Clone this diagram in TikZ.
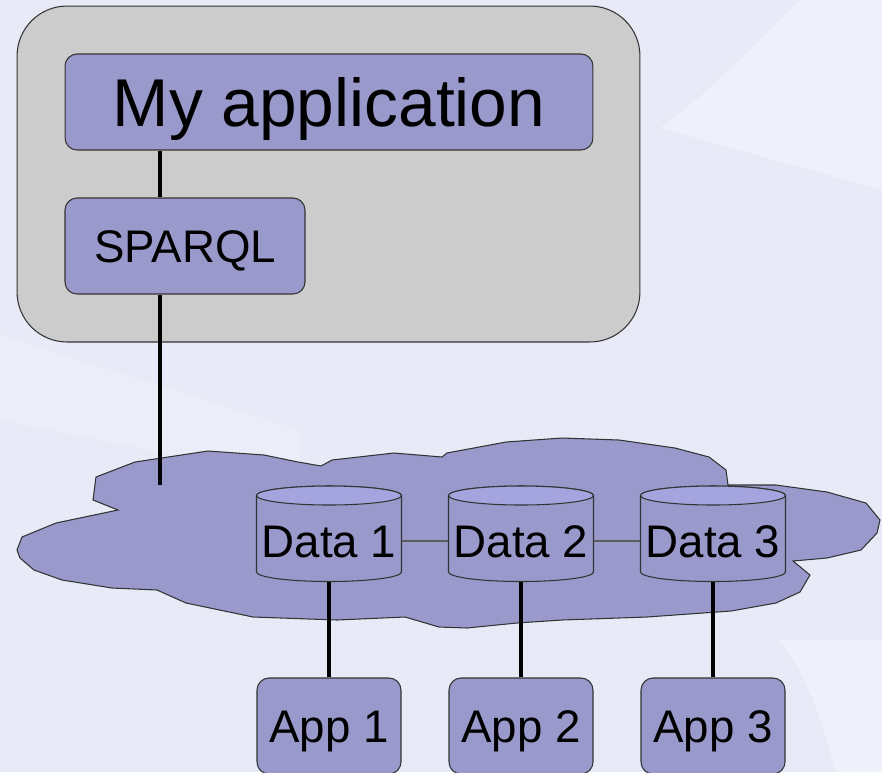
\documentclass[tikz,border=0pt]{standalone}
\usepackage{fontspec}
\setmainfont{Liberation Sans}
\usetikzlibrary{calc}

\definecolor{bgbase}{HTML}{E8EBF7}
\definecolor{bglight}{HTML}{EFF1FA}
\definecolor{bgmid}{HTML}{EBEDF8}
\definecolor{boxfill}{HTML}{9999CC}
\definecolor{captop}{HTML}{A4A4DE}
\definecolor{hostfill}{HTML}{CCCCCC}
\definecolor{edge}{HTML}{333333}

\tikzset{
  box/.style={draw=edge, line width=0.6pt, fill=boxfill, rounded corners=0.24cm,
    inner sep=0pt, text height=18.6pt, text depth=0pt, font=\fontsize{26}{26}\selectfont},
  dbnode/.style={inner sep=0pt, minimum width=2.9cm, minimum height=1.62cm,
    text height=18.6pt, text depth=0pt, font=\fontsize{26}{26}\selectfont},
  cylbody/.style={draw=edge, line width=0.6pt, fill=boxfill},
  cyltop/.style={draw=edge, line width=0.6pt, fill=captop},
  heavy/.style={line width=2.3pt, black},
  peer/.style={line width=0.8pt, draw=edge!80},
}

% database cylinder drawn around a named text node
\newcommand\dbdrum[1]{%
  \path[cylbody] ($(#1)+(-72.5,45.5)$) -- ($(#1)+(-72.5,-31)$)
    arc[start angle=180, end angle=360, x radius=1.45cm, y radius=0.19cm]
    -- ($(#1)+(72.5,45.5)$)
    arc[start angle=0, end angle=180, x radius=1.45cm, y radius=0.19cm] -- cycle;
  \path[cyltop] ($(#1)+(0,45.5)$) ellipse[x radius=1.45cm, y radius=0.19cm];
}

\begin{document}
\begin{tikzpicture}[x=0.02cm, y=0.02cm]
% background
\fill[bgbase] (0,0) rectangle (882,-772);
\useasboundingbox (0,0) rectangle (882,-772);
\fill[bgmid] (0,-335) -- (300,-430) -- (300,-480) -- (0,-420) -- cycle;
\fill[bglight] (800,0) .. controls (740,-60) and (700,-100) .. (660,-128)
  -- (882,-190) -- (882,0) -- cycle;
\fill[bglight] (780,-640) .. controls (810,-680) and (825,-730) .. (835,-772)
  -- (882,-772) -- (882,-640) -- cycle;

% application host
\node[draw=edge, line width=0.6pt, fill=hostfill, rounded corners=1cm,
  minimum width=12.46cm, minimum height=6.72cm] (host) at (328.5,-174) {};
\node[box, minimum width=10.56cm, minimum height=1.92cm, text height=27.6pt,
  font=\fontsize{38.5}{38.5}\selectfont] (myapp) at (329,-102) {My application};
\node[box, minimum width=4.8cm, minimum height=1.92cm] (sparql) at (185,-246) {SPARQL};

% the web of data
\path[draw=edge, line width=0.6pt, fill=boxfill]
  (17,-550) -- (22,-537) -- (56,-523) -- (118,-510) -- (93,-500) -- (96,-477)
  -- (135,-462) -- (208,-451) -- (264,-455) -- (298,-462) -- (321,-466)
  -- (332,-460) -- (394,-453) -- (442,-457) -- (447,-453) -- (506,-442)
  -- (562,-438) -- (619,-440) -- (675,-448) -- (709,-457) -- (726,-470)
  -- (728,-485) -- (776,-485) -- (827,-492) -- (866,-503) -- (880,-520)
  -- (877,-533) -- (861,-550) -- (827,-558) -- (793,-561) -- (810,-575)
  -- (800,-592) -- (776,-603) -- (731,-611) -- (647,-617) -- (562,-620)
  -- (517,-623) -- (467,-628) -- (439,-627) -- (405,-617) -- (337,-620)
  -- (253,-617) -- (186,-603) -- (157,-590) -- (112,-588) -- (62,-580)
  -- (34,-570) -- (20,-558) -- cycle;

% link from the query layer down into the data
\coordinate (qx) at (160,0);
\coordinate (dive) at (160,-485);
\draw[heavy] (myapp.south -| qx) -- (sparql.north -| qx);
\draw[heavy] (sparql.south -| qx) -- (dive);

% data stores
\path (329,-541) node[dbnode] (d1) {}
      (521,-541) node[dbnode] (d2) {}
      (713,-541) node[dbnode] (d3) {};

% consuming applications
\node[box, minimum width=2.88cm, minimum height=1.92cm] (a1) at (329,-726) {App 1};
\node[box, minimum width=2.88cm, minimum height=1.92cm] (a2) at (521,-726) {App 2};
\node[box, minimum width=2.88cm, minimum height=1.92cm] (a3) at (713,-726) {App 3};

\draw[heavy] (d1.south) -- (a1.north);
\draw[heavy] (d2.south) -- (a2.north);
\draw[heavy] (d3.south) -- (a3.north);

\dbdrum{d1}\dbdrum{d2}\dbdrum{d3}
\node[dbnode] at (d1) {Data 1};
\node[dbnode] at (d2) {Data 2};
\node[dbnode] at (d3) {Data 3};

\draw[peer] (d1.east) -- (d2.west);
\draw[peer] (d2.east) -- (d3.west);
\end{tikzpicture}
\end{document}
